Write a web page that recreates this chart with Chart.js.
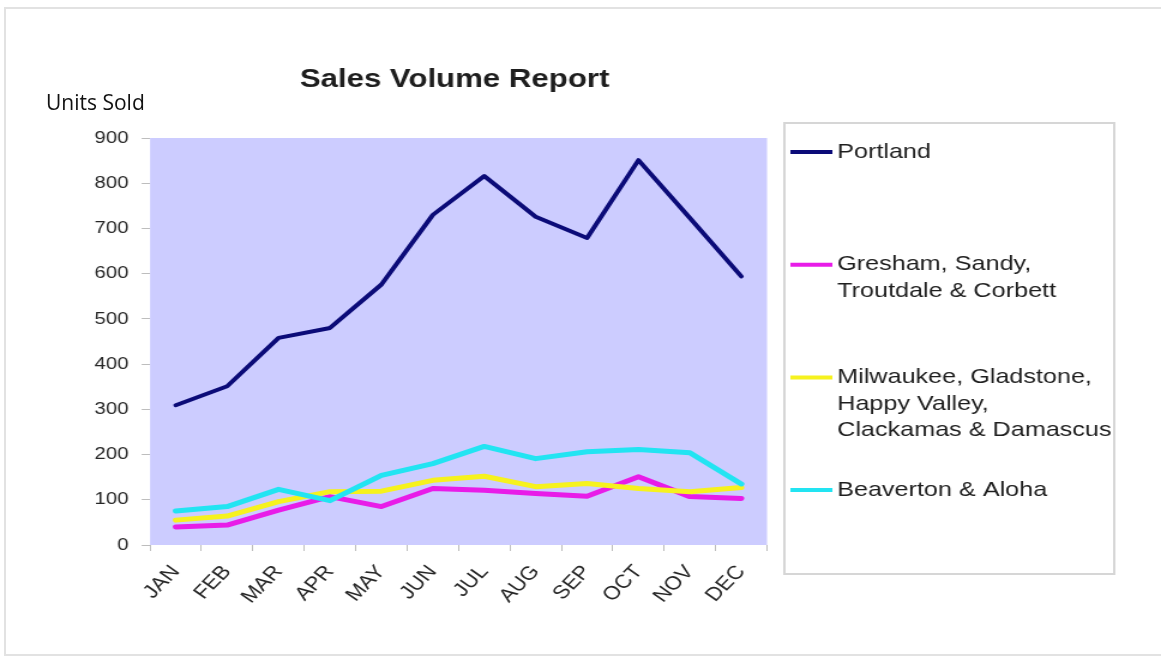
<!DOCTYPE html>
<html>
<head>
<meta charset="utf-8">
<script src="https://cdn.jsdelivr.net/npm/chart.js@4.4.1/dist/chart.umd.min.js"></script>
<style>
    html, body { margin: 0; padding: 0; background: #fff; overflow: hidden; }
    #wrap { position: relative; width: 1161px; height: 656px; }
    #frame { position: absolute; left: 4px; top: 7px; width: 1200px; height: 645px; border: 2px solid #e2e2e2; }
    #myChart { position: absolute; left: 0; top: 0; }
    #yTitle { position: absolute; left: 46px; top: 88px; font: 21px "Open Sans", sans-serif; color: #111; }
</style>
</head>
<body>
<div id="wrap">
    <div id="frame"></div>
    <canvas id="myChart" width="968" height="656" style="width:1161px;height:656px"></canvas>
    <div id="yTitle">Units Sold</div>
</div>
<script>
// Data
const months = ['JAN', 'FEB', 'MAR', 'APR', 'MAY', 'JUN', 'JUL', 'AUG', 'SEP', 'OCT', 'NOV', 'DEC'];
const portland = [309, 351, 458, 480, 576, 730, 816, 726, 679, 851, 723, 594];
const gresham = [40, 44, 77, 107, 85, 125, 121, 114, 108, 151, 107, 103];
const milwaukee = [55, 64, 96, 118, 119, 143, 152, 129, 136, 125, 118, 127];
const beaverton = [75, 85, 123, 98, 154, 180, 218, 191, 206, 211, 204, 135];

const seriesNames = [
    'Portland',
    'Gresham, Sandy, Troutdale & Corbett',
    'Milwaukee, Gladstone, Happy Valley, Clackamas & Damascus',
    'Beaverton & Aloha'
];
// how the names wrap in the legend box
const legendLines = [
    ['Portland'],
    ['Gresham, Sandy,', 'Troutdale & Corbett'],
    ['Milwaukee, Gladstone,', 'Happy Valley,', 'Clackamas & Damascus'],
    ['Beaverton & Aloha']
];
const yMin = 0;
const yMax = 900;
const yStep = 100;
const chartTitle = 'Sales Volume Report';

// Styles
const seriesColors = ['#0b0b78', '#e81ce8', '#f6f21e', '#22e4f2'];
const seriesWidths = [4, 5, 5, 5];
const FONT = '"Liberation Sans", Arial, sans-serif';

// plot background + title + legend box drawn on the canvas
const excelLook = {
    id: 'excelLook',
    beforeDraw(chart) {
        const {ctx, chartArea: a} = chart;
        ctx.save();
        ctx.fillStyle = '#ccccff';
        ctx.fillRect(a.left, a.top, a.right - a.left, a.bottom - a.top);
        ctx.restore();
    },
    afterDraw(chart) {
        const ctx = chart.ctx;
        ctx.save();
        // title
        ctx.fillStyle = '#1e1e1e';
        ctx.font = 'bold 26px ' + FONT;
        ctx.textAlign = 'center';
        ctx.textBaseline = 'middle';
        ctx.fillText(chartTitle, 379, 80);

        // legend box
        const bx = 654, by = 123, bw = 275, bh = 451;
        ctx.strokeStyle = '#d6d6d6';
        ctx.lineWidth = 2;
        ctx.strokeRect(bx, by, bw, bh);

        ctx.font = '21px ' + FONT;
        ctx.textAlign = 'left';
        ctx.textBaseline = 'middle';
        chart.data.datasets.forEach((ds, i) => {
            const y = 152 + i * 112.7;
            ctx.strokeStyle = ds.borderColor;
            ctx.lineWidth = 4;
            ctx.beginPath();
            ctx.moveTo(659, y);
            ctx.lineTo(694, y);
            ctx.stroke();
            ctx.fillStyle = '#1e1e1e';
            legendLines[i].forEach((t, j) => ctx.fillText(t, 698, y + j * 26.5));
        });
        ctx.restore();
    }
};

const datasets = [portland, gresham, milwaukee, beaverton].map((vals, i) => ({
    label: seriesNames[i],
    data: vals,
    borderColor: seriesColors[i],
    backgroundColor: seriesColors[i],
    borderWidth: seriesWidths[i],
    order: 3 - i
}));

const config = {
    type: 'line',
    data: { labels: months, datasets: datasets },
    options: {
        responsive: false,
        animation: false,
        layout: { padding: { left: 0, top: 138, right: 328.5, bottom: 0 } },
        elements: {
            point: { radius: 0, hoverRadius: 0 },
            line: { tension: 0, borderJoinStyle: 'round', borderCapStyle: 'round' }
        },
        plugins: {
            legend: { display: false },
            title: { display: false },
            tooltip: { enabled: false }
        },
        scales: {
            x: {
                offset: true,
                grid: { offset: true, drawOnChartArea: false, tickLength: 6, color: '#bdbdbd' },
                border: { display: false },
                ticks: {
                    autoSkip: false,
                    minRotation: 50,
                    maxRotation: 50,
                    padding: 10,
                    labelOffset: 0,
                    color: '#262626',
                    font: { family: FONT, size: 19 }
                },
                afterFit: s => { s.height = 111; }
            },
            y: {
                min: yMin,
                max: yMax,
                grid: { drawOnChartArea: false, tickLength: 7, color: '#bdbdbd' },
                border: { display: false },
                ticks: {
                    stepSize: yStep,
                    padding: 11,
                    color: '#262626',
                    font: { family: FONT, size: 17 }
                },
                afterFit: s => { s.width = 125.1; }
            }
        }
    },
    plugins: [excelLook]
};

const myChart = new Chart(document.querySelector('#myChart'), config);
</script>
</body>
</html>
